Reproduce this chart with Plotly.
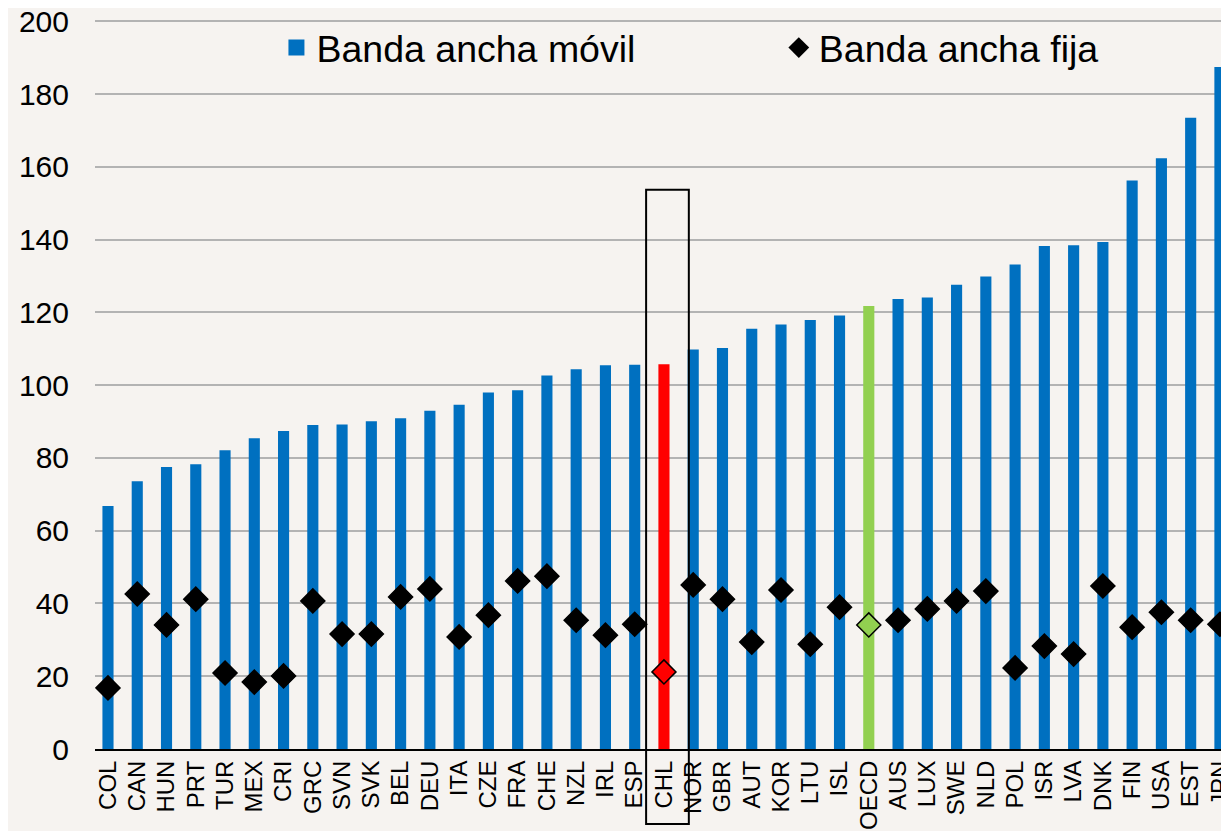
import plotly.graph_objects as go

paises = ['COL', 'CAN', 'HUN', 'PRT', 'TUR', 'MEX', 'CRI', 'GRC', 'SVN', 'SVK', 'BEL', 'DEU', 'ITA',
          'CZE', 'FRA', 'CHE', 'NZL', 'IRL', 'ESP', 'CHL', 'NOR', 'GBR', 'AUT', 'KOR', 'LTU', 'ISL',
          'OECD', 'AUS', 'LUX', 'SWE', 'NLD', 'POL', 'ISR', 'LVA', 'DNK', 'FIN', 'USA', 'EST', 'JPN']

movil = [66.8, 73.6, 77.5, 78.3, 82.1, 85.4, 87.4, 89.1, 89.2, 90.1, 90.9, 93.0, 94.6,
         98.0, 98.6, 102.7, 104.4, 105.5, 105.6, 105.8, 109.8, 110.2, 115.5, 116.7, 117.9, 119.2,
         121.8, 123.7, 124.1, 127.6, 129.9, 133.2, 138.3, 138.5, 139.4, 156.3, 162.4, 173.5, 187.5]

fija = [16.8, 42.6, 34.1, 41.2, 20.9, 18.4, 20.1, 40.7, 31.6, 31.6, 41.8, 44.0, 30.8,
        36.8, 46.2, 47.5, 35.4, 31.3, 34.3, 21.2, 45.1, 41.2, 29.4, 43.7, 28.8, 39.0,
        34.1, 35.4, 38.5, 40.7, 43.4, 22.3, 28.3, 26.1, 44.8, 33.5, 37.6, 35.4, 34.3]

AZUL = '#0070c0'

def color_barra(p):
    if p == 'CHL':
        return '#ff0000'
    if p == 'OECD':
        return '#92d050'
    return AZUL

def color_diamante(p):
    if p == 'CHL':
        return '#ff0000'
    if p == 'OECD':
        return '#92d050'
    return 'black'

fig = go.Figure()

fig.add_trace(go.Bar(x=paises, y=movil, name='Banda ancha móvil', width=0.38, showlegend=False,
                     marker=dict(color=[color_barra(p) for p in paises], line=dict(width=0))))

fig.add_trace(go.Scatter(x=paises, y=fija, name='Banda ancha fija', mode='markers', showlegend=False,
                         marker=dict(symbol='diamond', size=18.5, color=[color_diamante(p) for p in paises],
                                     line=dict(color='black', width=1.5))))

# entradas de la leyenda (cuadrado grande como en el original)
fig.add_trace(go.Scatter(x=[None], y=[None], name='Banda ancha móvil', mode='markers', legend='legend',
                         marker=dict(symbol='square', size=21, color=AZUL)))
fig.add_trace(go.Scatter(x=[None], y=[None], name='Banda ancha fija', mode='markers', legend='legend2',
                         marker=dict(symbol='diamond', size=17.5, color='black')))

# recuadro alrededor de Chile
fig.add_shape(type='rect', xref='x', yref='paper', x0=18.39, x1=19.85, y0=-0.103, y1=0.767,
              line=dict(color='black', width=2), fillcolor='rgba(0,0,0,0)', layer='above')

leyenda = dict(orientation='h', y=0.962, xanchor='left', yanchor='middle',
               font=dict(size=37.5), bgcolor='rgba(0,0,0,0)', itemsizing='trace')

# la página añade 8px de margen al body: se compensa con el tamaño y los márgenes
fig.update_layout(
    width=1221, height=823,
    margin=dict(l=87, r=0, t=12, b=82),
    paper_bgcolor='#f6f3f0', plot_bgcolor='#f6f3f0',
    font=dict(family='Liberation Sans, Arial', color='black'),
    showlegend=True,
    legend=dict(leyenda, x=0.160),
    legend2=dict(leyenda, x=0.603),
    xaxis=dict(range=[-0.444, 38.31], tickangle=-90, tickfont=dict(size=24), showgrid=False,
               showline=True, linecolor='black', linewidth=2, ticks='', automargin=False,
               ticklabeloverflow='allow'),
    yaxis=dict(range=[0, 200.4], tickvals=list(range(0, 201, 20)), tickfont=dict(size=30), showgrid=True,
               gridcolor='#b3b3b3', gridwidth=2, zeroline=False, showline=False, ticks='outside',
               ticklen=19, tickcolor='rgba(0,0,0,0)', automargin=False, ticklabeloverflow='allow'),
)

fig.write_html('out.html')
